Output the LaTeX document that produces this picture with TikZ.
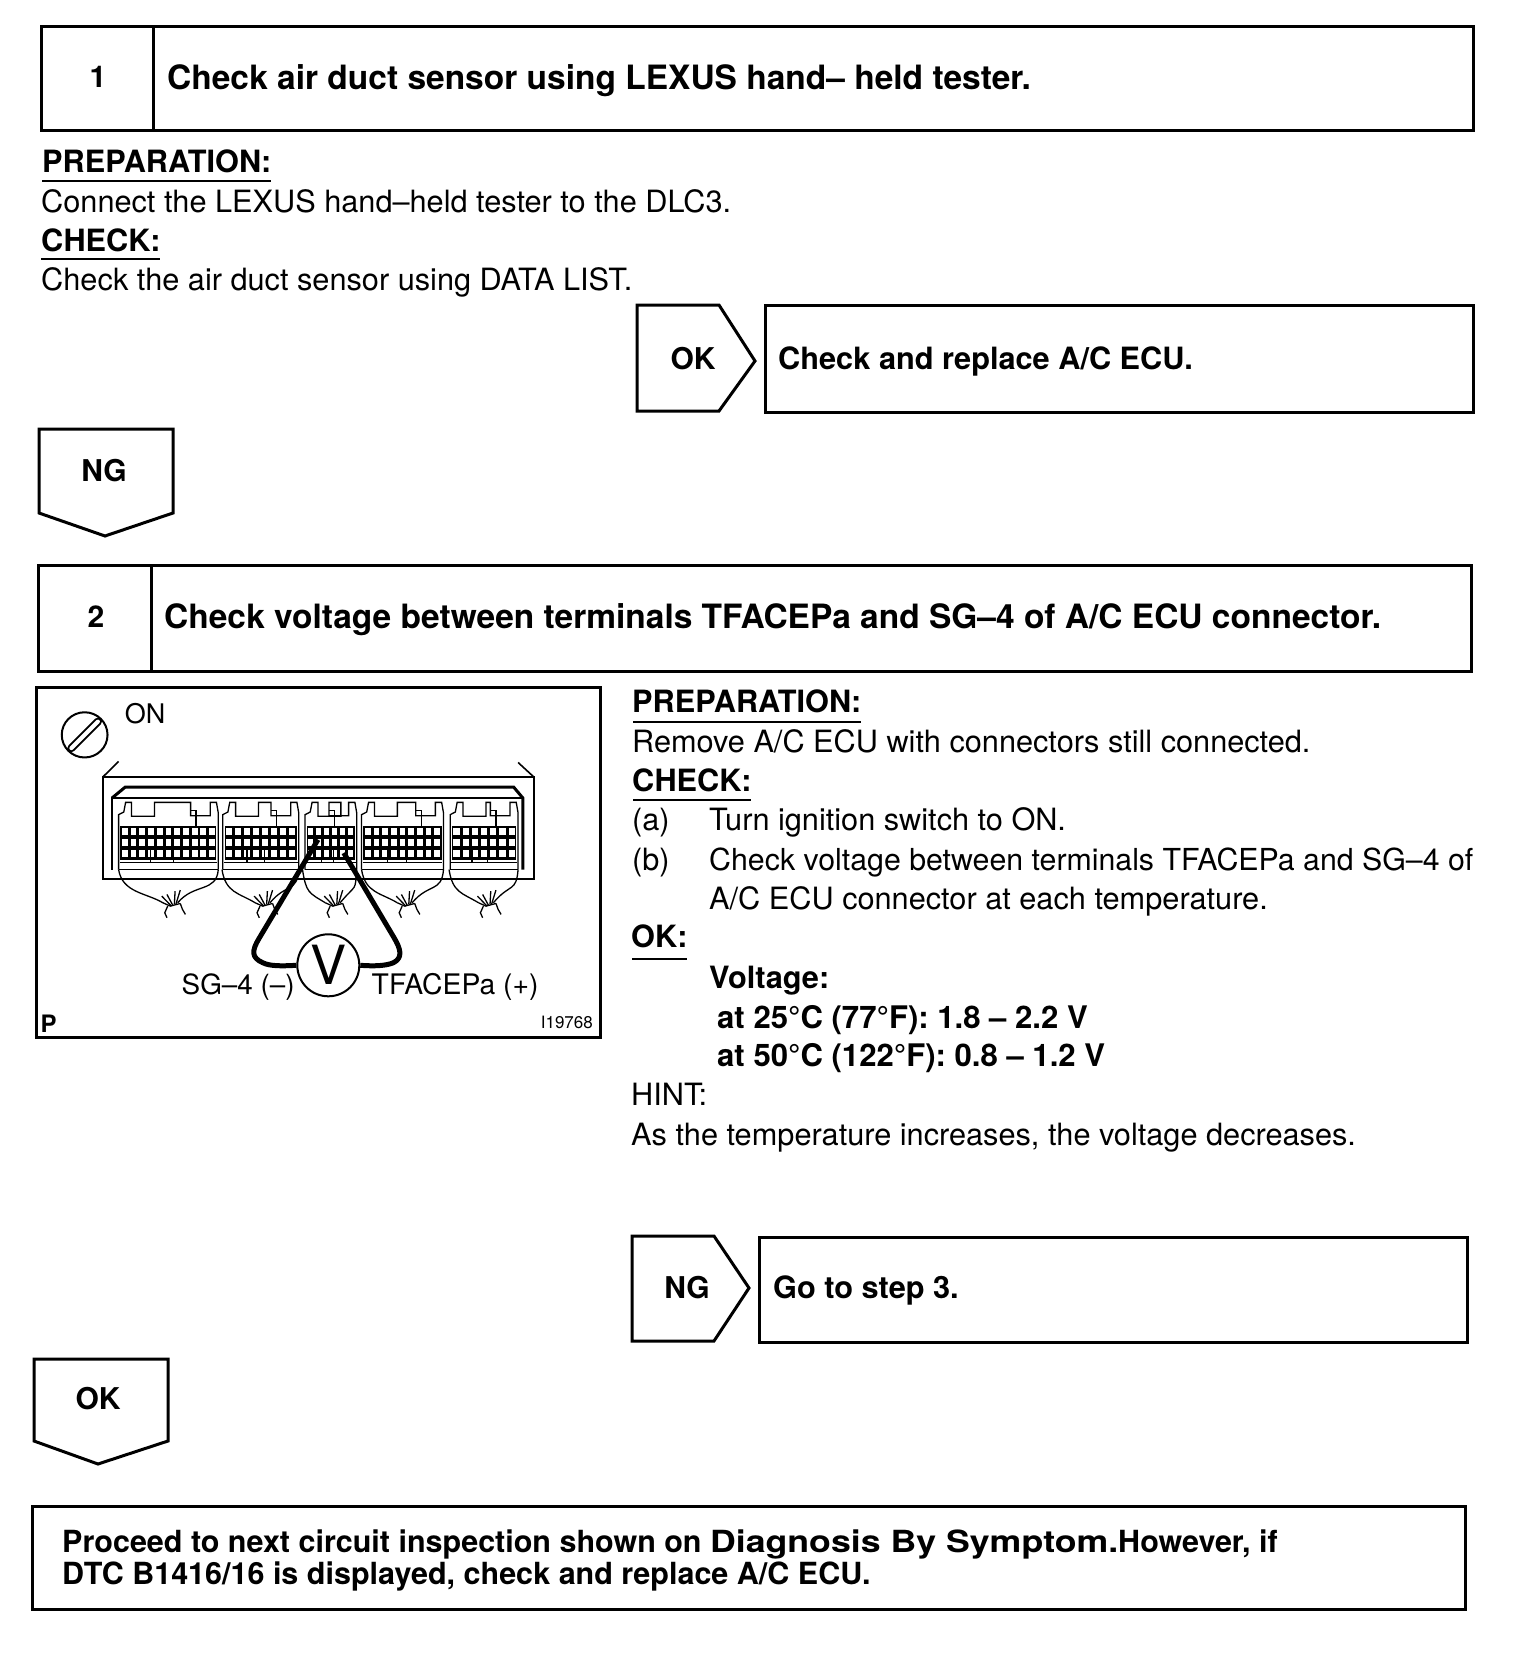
\documentclass[tikz,border=0pt]{standalone}
\usepackage{fontspec}
\setmainfont{TeX Gyre Heros}
\newcommand\ecuconn[3]{%
  \draw[fineline] (#1,570)--(#1,405)--++(14,-8)--++(5,-29)--++(16,0)--++(0,42)--++(62,0)--++(0,-42)--(#2-75,368)--(#2-75,408)--(#2-22,408)--(#2-22,368)--(#2-5,368)--(#2,400)--(#2,570);
  \draw[fineline] (#2-75,392)--(#2-60,392)--(#2-60,440);
  \fill (#1+5,438) rectangle (#2-5,540);
  \pgfmathsetmacro\cw{(#2-#1-10)/#3}
  \foreach \r in {444,477,510}{
    \foreach \i in {1,...,#3}{
      \fill[white] ({#1+5+(\i-1)*\cw+4},\r) rectangle ({#1+5+\i*\cw-4},\r+23);
    }
  }
  \draw[fineline] (#1+3,548)--(#2-3,548);
  \draw[fineline] ({#1+0.32*(#2-#1)},510)--({#1+0.32*(#2-#1)},548);
  \draw[fineline] ({#1+0.55*(#2-#1)},510)--({#1+0.55*(#2-#1)},548);
  \draw[fineline] (#1,570)--(#2,570);
}
\newcommand\harness[3]{%
  \draw[fineline] (#1,570) .. controls (#1+10,640) and (#2-70,640) .. (#2-25,670);
  \draw[fineline] (#3,570) .. controls (#3-5,640) and (#2+60,610) .. (#2+15,670);
  \draw[fineline] (#2-25,670)--(#2-5,680)--(#2+22,672);
  \draw[fineline] (#2-12,680)--(#2-20,700)--(#2-14,715);
  \draw[fineline] (#2+22,672)--(#2+28,690)--(#2+36,705);
  \draw[fineline] (#2-2,680)--(#2-28,650);
  \draw[fineline] (#2+2,678)--(#2-14,645);
  \draw[fineline] (#2+6,675)--(#2+8,635);
  \draw[fineline] (#2+10,675)--(#2+22,632);
}
\tikzset{
  x=1pt,y=-1pt,
  frame/.style={line width=3pt,line join=miter},
  fineline/.style={line width=1.3pt},
  bodytext/.style={anchor=base west,inner sep=0pt,font=\fontsize{30.7}{30}\selectfont},
  headtext/.style={anchor=base west,inner sep=0pt,font=\fontsize{30.7}{30}\selectfont\bfseries},
  titletext/.style={anchor=base west,inner sep=0pt,font=\fontsize{33.5}{30}\selectfont\bfseries},
  finaltext/.style={anchor=base west,inner sep=0pt,font=\fontsize{30.5}{30}\selectfont\bfseries},
  tagtext/.style={inner sep=0pt,font=\fontsize{30}{30}\selectfont\bfseries},
  rule/.style={line width=1.5pt},
}
\begin{document}
\begin{tikzpicture}
\fill[white] (0,0) rectangle (1520,1658);
\useasboundingbox (0,0) rectangle (1520,1658);
% step 1
\draw[frame] (41,26) rectangle (1473,130);
\draw[frame] (153,26)--(153,130);
\node[tagtext] (n1) at (98,77) {1};
\node[titletext] (t1) at (167,89) {Check air duct sensor using LEXUS hand-- held tester.};
\node[headtext] (p1) at (42,172) {PREPARATION:};
\draw[rule] (42,181)--(271,181);
\node[bodytext] (c1) at (41,212) {Connect the LEXUS hand--held tester to the DLC3.};
\node[headtext] (k1) at (41,251) {CHECK:};
\draw[rule] (41,259)--(160,259);
\node[bodytext] (d1) at (41,290) {Check the air duct sensor using DATA LIST.};
% OK arrow
\draw[frame] (637,305)--(719,305)--(755,361)--(719,411)--(637,411)--cycle;
\node[tagtext] (ok1) at (693,359) {OK};
\draw[frame] (765,305) rectangle (1473,412);
\node[headtext] (r1) at (778,369) {Check and replace A/C ECU.};
% NG down
\draw[frame] (39,429)--(173,429)--(173,513)--(105,536)--(39,513)--cycle;
\node[tagtext] (ng1) at (104,471) {NG};
% step 2
\draw[frame] (38,565) rectangle (1471,671);
\draw[frame] (151,565)--(151,671);
\node[tagtext] (n2) at (96,617) {2};
\node[titletext] (t2) at (164,628) {Check voltage between terminals TFACEPa and SG--4 of A/C ECU connector.};
% illustration
\begin{scope}[shift={(30,680)},x=0.3692pt,y=-0.3325pt]
  \draw[frame] (18,22) rectangle (1545,1075);
  \node[inner sep=0pt,font=\fontsize{27}{27}\selectfont] (on) at (312,100) {ON};
  \draw[line width=2pt] (148,165) ellipse [x radius=62,y radius=68];
  \draw[line width=8pt,line cap=round] (112,205)--(184,125);
  \draw[white,line width=4pt,line cap=round] (112,205)--(184,125);
  \draw[line width=1.6pt] (197,292)--(240,245);
  \draw[line width=1.6pt] (1365,292)--(1322,248);
  \draw[line width=2pt] (197,292) rectangle (1365,597);
  \draw[line width=3pt] (222,355)--(258,322)--(1310,322)--(1335,355)--(1335,570);
  \draw[line width=1.5pt] (222,570)--(222,355)--(1335,355);
  \ecuconn{240}{510}{11}
  \ecuconn{522}{728}{8}
  \ecuconn{745}{885}{6}
  \ecuconn{898}{1120}{9}
  \ecuconn{1138}{1322}{7}
  \harness{240}{385}{510}
  \harness{520}{635}{728}
  \harness{738}{825}{885}
  \harness{898}{1020}{1120}
  \harness{1135}{1240}{1322}
  \node[draw,circle,fill=white,line width=2pt,minimum size=62pt,inner sep=0pt,font=\fontsize{54}{54}\selectfont] (vm) at (808,858) {V};
  \coordinate (pl) at (780,480);
  \coordinate (pr) at (850,520);
  \draw[line width=5pt,line join=round] (vm.west) .. controls (690,860) and (650,862) .. (630,850) .. controls (600,835) and (600,815) .. (620,778) -- (pl);
  \draw[line width=5pt,line join=round] (vm.east) .. controls (920,860) and (960,862) .. (985,850) .. controls (1010,835) and (1005,810) .. (985,773) -- (pr);
  \node[anchor=base east,inner sep=0pt,font=\fontsize{27.8}{27}\selectfont] (sg) at (717,945) {SG--4 (--)};
  \node[anchor=base west,inner sep=0pt,font=\fontsize{28.3}{27}\selectfont] (tf) at (925,945) {TFACEPa (+)};
  \node[anchor=base west,inner sep=0pt,font=\fontsize{24}{24}\selectfont\bfseries] (pp) at (28,1060) {P};
  \node[anchor=base east,inner sep=0pt,font=\fontsize{17}{16}\selectfont] (code) at (1525,1048) {I19768};
\end{scope}
% right text
\node[headtext] (p2) at (632,712) {PREPARATION:};
\draw[rule] (633,722)--(861,722);
\node[bodytext] (c2) at (632,752) {Remove A/C ECU with connectors still connected.};
\node[headtext] (k2) at (632,791) {CHECK:};
\draw[rule] (633,800)--(751,800);
\node[bodytext] (a) at (632,830) {(a)};
\node[bodytext] (at) at (709,830) {Turn ignition switch to ON.};
\node[bodytext] (b) at (632,870) {(b)};
\node[bodytext,font=\fontsize{30.3}{30}\selectfont] (bt) at (709,870) {Check voltage between terminals TFACEPa and SG--4 of};
\node[bodytext] (bu) at (709,909) {A/C ECU connector at each temperature.};
\node[headtext] (o2) at (631,947) {OK:};
\draw[rule] (632,959)--(687,959);
\node[headtext] (v2) at (709,988) {Voltage:};
\node[headtext,font=\fontsize{31.1}{30}\selectfont\bfseries] (v3) at (717,1028) {at 25\textdegree C (77\textdegree F): 1.8 -- 2.2 V};
\node[headtext,font=\fontsize{31.1}{30}\selectfont\bfseries] (v4) at (717,1066) {at 50\textdegree C (122\textdegree F): 0.8 -- 1.2 V};
\node[bodytext] (h2) at (631,1105) {HINT:};
\node[bodytext] (h3) at (631,1145) {As the temperature increases, the voltage decreases.};
% NG arrow
\draw[frame] (632,1236)--(714,1236)--(749,1288)--(714,1341)--(632,1341)--cycle;
\node[tagtext] (ng2) at (687,1288) {NG};
\draw[frame] (759,1237) rectangle (1467,1342);
\node[headtext] (r2) at (773,1298) {Go to step 3.};
% OK down
\draw[frame] (34,1359)--(168,1359)--(168,1441)--(98,1464)--(34,1441)--cycle;
\node[tagtext] (ok2) at (98,1399) {OK};
% final
\draw[frame] (32,1506) rectangle (1465,1609);
\node[finaltext] (f1) at (62,1552) {Proceed to next circuit inspection shown on {\addfontfeature{FakeStretch=1.17}Diagnosis By Symptom.}However, if};
\node[finaltext] (f2) at (62,1584) {DTC B1416/16 is displayed, check and replace A/C ECU.};
\end{tikzpicture}
\end{document}
